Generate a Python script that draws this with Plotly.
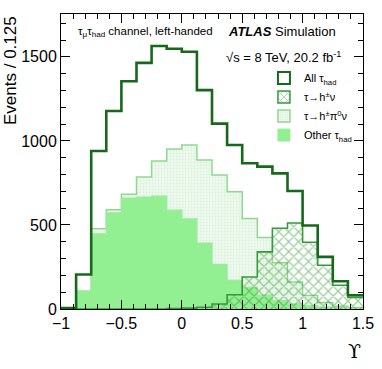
import plotly.graph_objects as go

# Upsilon binning: 20 bins of 0.125 between -1 and 1.5
bin_edges = [-1 + 0.125 * i for i in range(21)]

all_tau_had = [5, 205, 940, 1178, 1355, 1464, 1565, 1548, 1530, 1302,
               1103, 976, 867, 847, 807, 702, 497, 310, 165, 82]
h_nu = [0, 0, 0, 0, 0, 0, 0, 2, 5, 10,
        30, 85, 190, 340, 480, 512, 397, 260, 141, 69]
h_pi0_nu = [2, 100, 477, 590, 682, 785, 881, 952, 976, 887,
            797, 698, 538, 425, 275, 160, 80, 38, 17, 9]
other_tau_had = [3, 108, 447, 572, 660, 666, 671, 588, 536, 392,
                 266, 171, 130, 82, 50, 30, 20, 12, 7, 4]

legend_names = ["All τ<sub>had</sub>", "τ→h<sup>±</sup>ν",
                "τ→h<sup>±</sup>π<sup>0</sup>ν", "Other τ<sub>had</sub>"]

DARK = "#17691a"
HATCH = "#369a38"
DOTLINE = "#8fd98f"
DOTBG = "#f0faf0"
DOTFG = "#bfe6bf"
FILL = "#92ef92"
FONT = "Liberation Sans, Arial, sans-serif"


def step(values):
    # histogram contour: one point per bin edge, hv shape
    return bin_edges, list(values) + [values[-1]]


fig = go.Figure()

x, y = step(h_pi0_nu)
fig.add_trace(go.Scatter(
    x=x, y=y, mode="lines", line=dict(shape="hv", color=DOTLINE, width=1.5),
    fill="tozeroy", fillcolor=DOTBG,
    fillpattern=dict(shape=".", fgcolor=DOTFG, bgcolor=DOTBG, size=3, solidity=0.3),
    showlegend=False, hoverinfo="skip"))

x, y = step(other_tau_had)
fig.add_trace(go.Scatter(
    x=x, y=y, mode="lines", line=dict(shape="hv", color="#9cea9c", width=1.2),
    fill="tozeroy", fillcolor=FILL, showlegend=False, hoverinfo="skip"))

x, y = step(h_nu)
fig.add_trace(go.Scatter(
    x=x, y=y, mode="lines", line=dict(shape="hv", color=HATCH, width=1.6),
    fill="tozeroy", fillcolor="rgba(0,0,0,0)",
    fillpattern=dict(shape="x", fgcolor=HATCH, bgcolor="rgba(0,0,0,0)", size=7, solidity=0.32),
    showlegend=False, hoverinfo="skip"))

x, y = step(all_tau_had)
fig.add_trace(go.Scatter(
    x=x, y=y, mode="lines", line=dict(shape="hv", color=DARK, width=2.6),
    showlegend=False, hoverinfo="skip"))

# legend entries (boxes like the ROOT legend)
legend_styles = [
    dict(color="rgba(0,0,0,0)", line=dict(color=DARK, width=2)),
    dict(color="rgba(0,0,0,0)", line=dict(color=HATCH, width=1.5),
         pattern=dict(shape="x", fgcolor=HATCH, size=6, solidity=0.3)),
    dict(color=DOTBG, line=dict(color=DOTLINE, width=1.5),
         pattern=dict(shape=".", fgcolor=DOTFG, bgcolor=DOTBG, size=3, solidity=0.3)),
    dict(color=FILL, line=dict(color=FILL, width=1)),
]
for name, marker in zip(legend_names, legend_styles):
    fig.add_trace(go.Bar(x=[None], y=[None], name=name, marker=marker, hoverinfo="skip"))

axis_common = dict(
    showline=True, linecolor="black", linewidth=1, mirror="ticks",
    ticks="inside", ticklen=9, tickwidth=1, tickcolor="black",
    showgrid=False, zeroline=False, type="linear", automargin=False,
    tickfont=dict(family=FONT, size=16, color="black"),
)

fig.update_layout(
    width=382, height=369,
    margin=dict(l=61, r=19, t=14, b=60),
    paper_bgcolor="white", plot_bgcolor="white",
    font=dict(family=FONT, color="black"),
    barmode="overlay",
    xaxis=dict(range=[-1, 1.5], tick0=-1, dtick=0.5,
               minor=dict(dtick=0.1, ticklen=5, ticks="inside", tickcolor="black"),
               **axis_common),
    yaxis=dict(range=[0, 1755], tick0=0, dtick=500, tickformat="d",
               minor=dict(dtick=100, ticklen=5, ticks="inside", tickcolor="black"),
               **axis_common),
    legend=dict(x=0.672, y=0.832, xanchor="left", yanchor="top",
                bgcolor="rgba(0,0,0,0)", font=dict(family=FONT, size=11),
                tracegroupgap=0),
    annotations=[
        dict(text="Events / 0.125", textangle=-90, xref="paper", yref="paper",
             x=0, y=1, xanchor="right", yanchor="top", xshift=-39, showarrow=False,
             font=dict(family=FONT, size=17)),
        dict(text="ϒ", xref="paper", yref="paper", x=1, y=-0.143,
             xanchor="right", yanchor="middle", showarrow=False,
             font=dict(family="DejaVu Serif", size=19)),
        dict(text="τ<sub>μ</sub>τ<sub>had</sub> channel, left-handed",
             xref="paper", yref="paper", x=0.05, y=0.939,
             xanchor="left", yanchor="middle", showarrow=False,
             font=dict(family=FONT, size=11.5)),
        dict(text="<b><i>ATLAS</i></b> Simulation", xref="paper", yref="paper",
             x=0.546, y=0.939, xanchor="left", yanchor="middle", showarrow=False,
             font=dict(family=FONT, size=13)),
        dict(text="√s = 8 TeV, 20.2 fb<sup>-1</sup>", xref="paper", yref="paper",
             x=0.540, y=0.854, xanchor="left", yanchor="middle", showarrow=False,
             font=dict(family=FONT, size=13)),
    ],
)

# the page body has a default 8px margin; drop it so the figure sits at (0, 0)
fig.write_html("out.html", config={"displayModeBar": False},
               post_script="document.body.style.margin = '0';")
